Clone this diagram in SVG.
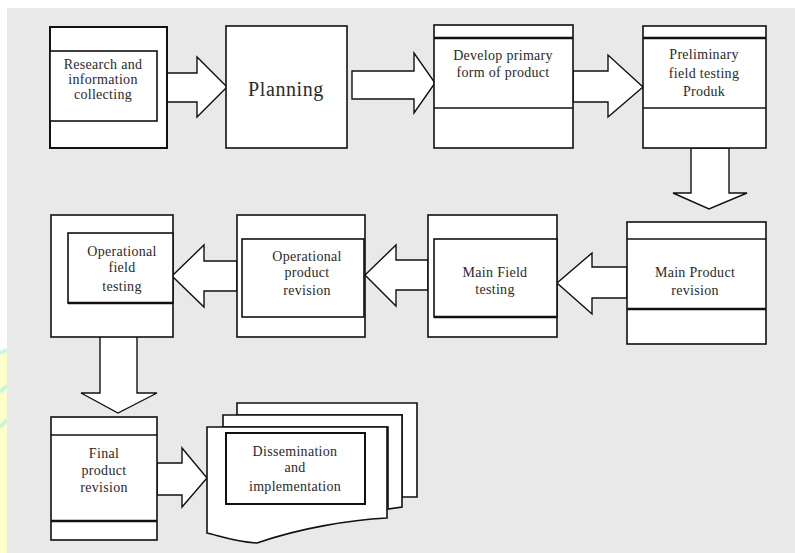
<svg xmlns="http://www.w3.org/2000/svg" width="795" height="553" viewBox="0 0 795 553">
<style>
.box{fill:#ffffff;stroke:#111;stroke-width:1.6}
.in{fill:#ffffff;stroke:#111;stroke-width:1.6}
.ln{stroke:#111;stroke-width:1.4;fill:none}
.thk{stroke:#111;stroke-width:2.4;fill:none}
.arr{fill:#ffffff;stroke:#111;stroke-width:1.4;stroke-linejoin:miter}
text{font-family:"Liberation Serif","Times New Roman",serif;font-size:14px;fill:#2a2a2a;text-anchor:middle;letter-spacing:0.3px}
</style>
<rect x="0" y="0" width="795" height="553" fill="#ffffff"/>
<rect x="0" y="350" width="7" height="203" fill="#ffffcc"/>
<path d="M0 353 L7 350 M0 392 L7 386 M0 427 L7 420" stroke="#c8f5e0" stroke-width="4" fill="none"/>
<rect x="7" y="8" width="788" height="545" fill="#e9e9e9"/>

<g id="connectors">
<polygon class="arr" points="167,73 197,73 197,57 227,87 197,117 197,102 167,102"/>
<polygon class="arr" points="352,71 414,71 414,53 435,83 414,113 414,99 352,99"/>
<polygon class="arr" points="573,71 608,71 608,55 643,87 608,117 608,102 573,102"/>
<polygon class="arr" points="691,148 729,148 729,193 747,193 709,209 673,193 691,193"/>
<polygon class="arr" points="627,267 592,267 592,253 557,283 592,314 592,298 627,298"/>
<polygon class="arr" points="428,260 396,260 396,245 365,275 396,306 396,290 428,290"/>
<polygon class="arr" points="237,261 204,261 204,245 172,276 204,307 204,291 237,291"/>
<polygon class="arr" points="100,334 137,334 137,393 157,393 118,413 81,393 100,393"/>
<polygon class="arr" points="157,463 182,463 182,448 207,478 182,507 182,495 157,495"/>
</g>

<g id="research">
<rect class="box" x="50" y="27" width="117" height="121" style="stroke-width:2"/>
<rect class="in" x="50" y="51" width="107" height="70"/>
<text x="103" y="69">Research and</text>
<text x="103" y="84">information</text>
<text x="103" y="99">collecting</text>
</g>

<g id="planning">
<rect class="box" x="226" y="26" width="121" height="122"/>
<text x="286" y="96" style="font-size:20px;letter-spacing:0.6px">Planning</text>
</g>

<g id="develop">
<rect class="box" x="434" y="25" width="139" height="123"/>
<line class="thk" x1="434" y1="38" x2="573" y2="38"/>
<line class="ln" x1="434" y1="108" x2="573" y2="108"/>
<text x="503" y="60">Develop primary</text>
<text x="503" y="77">form of product</text>
</g>

<g id="preliminary">
<rect class="box" x="643" y="26" width="123" height="122"/>
<line class="thk" x1="643" y1="38" x2="766" y2="38"/>
<line class="ln" x1="643" y1="108" x2="766" y2="108"/>
<text x="704" y="59">Preliminary</text>
<text x="704" y="78">field testing</text>
<text x="704" y="96">Produk</text>
</g>

<g id="main-product">
<rect class="box" x="627" y="222" width="139" height="122"/>
<line class="ln" x1="627" y1="239" x2="766" y2="239"/>
<line class="thk" x1="627" y1="309" x2="766" y2="309"/>
<text x="695" y="277">Main Product</text>
<text x="695" y="295">revision</text>
</g>

<g id="main-field">
<rect class="box" x="428" y="215" width="129" height="122"/>
<rect class="in" x="434" y="239" width="123" height="78"/>
<line class="thk" x1="434" y1="317" x2="557" y2="317"/>
<text x="495" y="277">Main Field</text>
<text x="495" y="294">testing</text>
</g>

<g id="operational-revision">
<rect class="box" x="237" y="215" width="128" height="122"/>
<rect class="in" x="242" y="239" width="122" height="78"/>
<text x="307" y="261">Operational</text>
<text x="307" y="277">product</text>
<text x="307" y="295">revision</text>
</g>

<g id="operational-field">
<rect class="box" x="51" y="215" width="122" height="122"/>
<rect class="in" x="68" y="233" width="105" height="70"/>
<line class="thk" x1="68" y1="303" x2="173" y2="303"/>
<text x="122" y="256">Operational</text>
<text x="122" y="272">field</text>
<text x="122" y="291">testing</text>
</g>

<g id="final-revision">
<rect class="box" x="51" y="417" width="106" height="123"/>
<line class="ln" x1="51" y1="435" x2="157" y2="435"/>
<line class="thk" x1="51" y1="521" x2="157" y2="521"/>
<text x="104" y="458">Final</text>
<text x="104" y="475">product</text>
<text x="104" y="492">revision</text>
</g>

<g id="dissemination">
<path class="box" d="M237 403 L417 403 L417 497 L402 497 L402 415 L237 415 Z"/>
<path class="box" d="M223 415 L402 415 L402 507 L388 509 L388 427 L223 427 Z"/>
<path class="box" d="M207 427 L387 427 L387 518 C350 520 300 528 257 543 C235 542 220 536 207 533 Z"/>
<rect class="in" x="226" y="433" width="139" height="71" style="stroke-width:2"/>
<text x="295" y="456">Dissemination</text>
<text x="295" y="472">and</text>
<text x="295" y="491">implementation</text>
</g>
</svg>
